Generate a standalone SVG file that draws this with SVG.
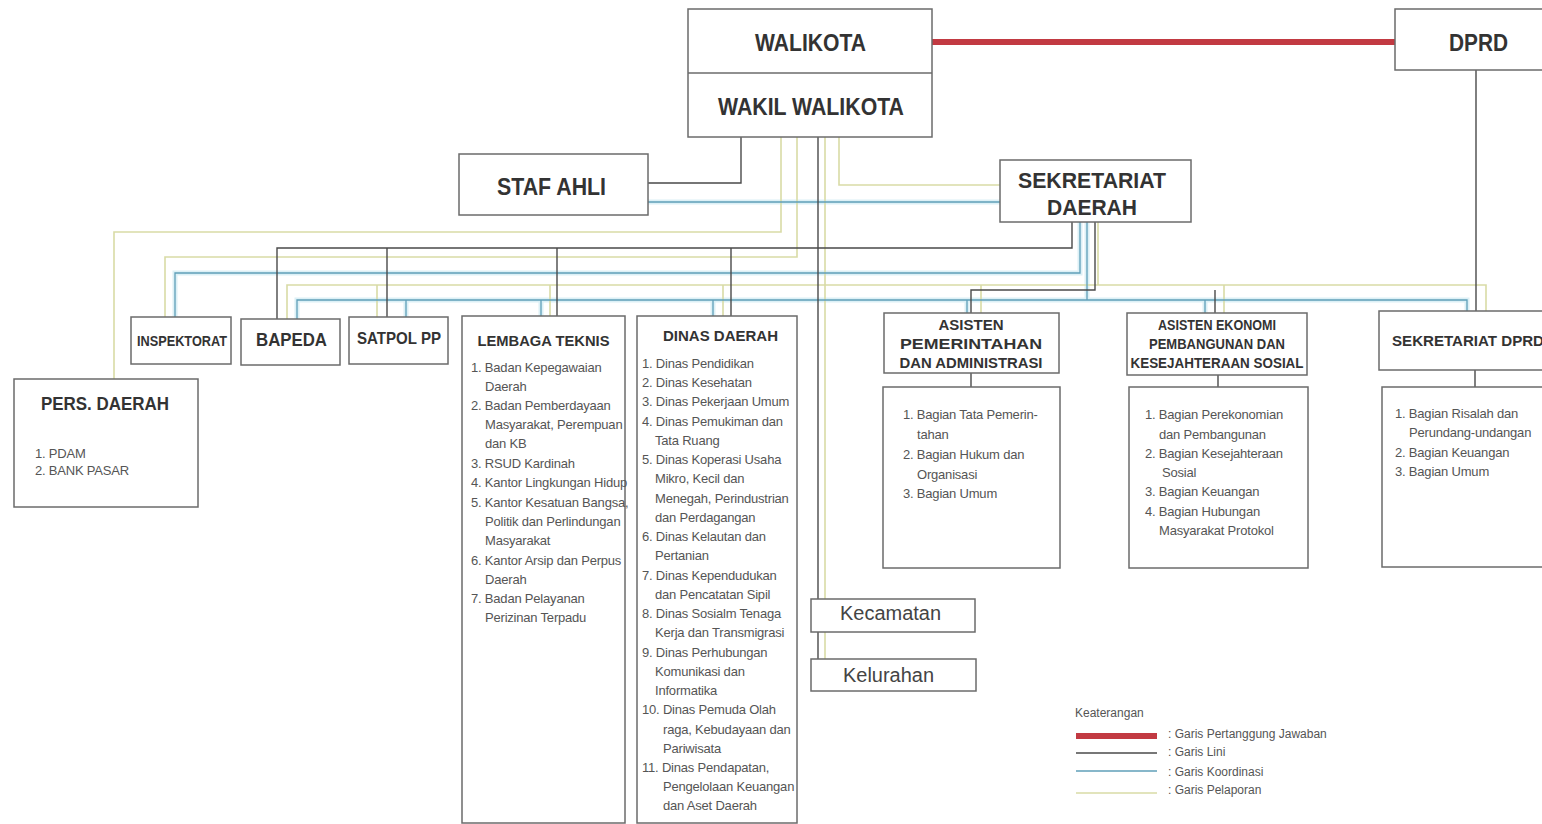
<svg xmlns="http://www.w3.org/2000/svg" width="1542" height="824" viewBox="0 0 1542 824">
<style>
.box{fill:#fff;stroke:#6b6b6b;stroke-width:1.5}
.ln{fill:none;stroke:#4a4a4a;stroke-width:1.4}
.coh{fill:none;stroke:#dcf0f6;stroke-width:5}
.co{fill:none;stroke:#5f9fb8;stroke-width:1.3}
.re{fill:none;stroke:#d9dba6;stroke-width:1.6}
.red{fill:none;stroke:#c23a42;stroke-width:6}
.t{font-family:"Liberation Sans",Arial,sans-serif;font-weight:bold;fill:#333}
.i{font-family:"Liberation Sans",Arial,sans-serif;font-size:13px;fill:#555;letter-spacing:-0.2px}
.k{font-family:"Liberation Sans",Arial,sans-serif;font-size:20px;fill:#444}
.lg{font-family:"Liberation Sans",Arial,sans-serif;font-size:12px;fill:#555}
</style>
<rect width="1542" height="824" fill="#fff"/>
<g id="connectors">
<path class="coh" d="M648,202 H1000 M1080,222 V273 H175 V317 M1087,222 V300 H297 V319 M406,300 V317 M541,300 V316 M713,300 V316 M1087,300 H1467 V311 M967,300 V313 M1205,300 V313"/>
<path class="re" d="M781,137 V232 H114 V379 M797,137 V257 H165 V317 M839,137 V185 H1000 M825,137 V659 M1098,222 V285 H287 V319 M377,285 V317 M550,285 V316 M723,285 V316 M1098,285 H1486 V311 M981,285 V313 M1224,285 V313"/>
<path class="co" d="M648,202 H1000 M1080,222 V273 H175 V317 M1087,222 V300 H297 V319 M406,300 V317 M541,300 V316 M713,300 V316 M1087,300 H1467 V311 M967,300 V313 M1205,300 V313"/>
<path class="ln" d="M741,137 V183 H648 M818,137 V659 M1072,222 V248 H277 V319 M387,248 V317 M557,248 V316 M731,248 V316 M1095,222 V290 H971 V313 M1215,290 V313 M1476,70 V311 M971,373 V387 M1218,375 V387 M1475,370 V387"/>
<path class="red" d="M932,42 H1395"/>
</g>
<g id="walikota">
<rect class="box" x="688" y="9" width="244" height="128"/>
<line x1="688" y1="73" x2="932" y2="73" stroke="#6b6b6b" stroke-width="1.5"/>
<text class="t" x="810.5" y="51" font-size="24" text-anchor="middle" textLength="111" lengthAdjust="spacingAndGlyphs">WALIKOTA</text>
<text class="t" x="811" y="115" font-size="24" text-anchor="middle" textLength="186" lengthAdjust="spacingAndGlyphs">WAKIL WALIKOTA</text>
</g>
<g id="dprd">
<rect class="box" x="1395" y="9" width="160" height="61"/>
<text class="t" x="1478.5" y="51" font-size="24" text-anchor="middle" textLength="59" lengthAdjust="spacingAndGlyphs">DPRD</text>
</g>
<g id="staf-ahli">
<rect class="box" x="459" y="154" width="189" height="61"/>
<text class="t" x="551.5" y="195" font-size="24" text-anchor="middle" textLength="109" lengthAdjust="spacingAndGlyphs">STAF AHLI</text>
</g>
<g id="sekda">
<rect class="box" x="1000" y="160" width="191" height="62"/>
<text class="t" x="1092" y="188" font-size="22" text-anchor="middle" textLength="148" lengthAdjust="spacingAndGlyphs">SEKRETARIAT</text>
<text class="t" x="1092" y="215" font-size="22" text-anchor="middle" textLength="90" lengthAdjust="spacingAndGlyphs">DAERAH</text>
</g>
<g id="inspektorat">
<rect class="box" x="131" y="317" width="100" height="47"/>
<text class="t" x="137" y="346" font-size="14" textLength="90" lengthAdjust="spacingAndGlyphs">INSPEKTORAT</text>
</g>
<g id="bapeda">
<rect class="box" x="241" y="319" width="99" height="46"/>
<text class="t" x="256" y="346" font-size="19" textLength="71" lengthAdjust="spacingAndGlyphs">BAPEDA</text>
</g>
<g id="satpol">
<rect class="box" x="349" y="317" width="99" height="47"/>
<text class="t" x="357" y="344" font-size="17" textLength="84" lengthAdjust="spacingAndGlyphs">SATPOL PP</text>
</g>
<g id="pers-daerah">
<rect class="box" x="14" y="379" width="184" height="128"/>
<text class="t" x="41" y="410" font-size="18" textLength="128" lengthAdjust="spacingAndGlyphs">PERS. DAERAH</text>
<text class="i" font-size="12.5"><tspan x="35" y="458">1. PDAM</tspan><tspan x="35" y="475">2. BANK PASAR</tspan></text>
</g>
<g id="lembaga-teknis">
<rect class="box" x="462" y="316" width="163" height="507"/>
<text class="t" x="543.5" y="345.5" font-size="15" text-anchor="middle" textLength="132" lengthAdjust="spacingAndGlyphs">LEMBAGA TEKNIS</text>
<text class="i">
<tspan x="471" y="371.5">1. Badan Kepegawaian</tspan>
<tspan x="485" y="390.5">Daerah</tspan>
<tspan x="471" y="410">2. Badan Pemberdayaan</tspan>
<tspan x="485" y="429">Masyarakat, Perempuan</tspan>
<tspan x="485" y="448">dan KB</tspan>
<tspan x="471" y="468">3. RSUD Kardinah</tspan>
<tspan x="471" y="487">4. Kantor Lingkungan Hidup</tspan>
<tspan x="471" y="507">5. Kantor Kesatuan Bangsa,</tspan>
<tspan x="485" y="526">Politik dan Perlindungan</tspan>
<tspan x="485" y="545">Masyarakat</tspan>
<tspan x="471" y="565">6. Kantor Arsip dan Perpus</tspan>
<tspan x="485" y="584">Daerah</tspan>
<tspan x="471" y="603">7. Badan Pelayanan</tspan>
<tspan x="485" y="622">Perizinan Terpadu</tspan>
</text>
</g>
<g id="dinas-daerah">
<rect class="box" x="637" y="316" width="160" height="507"/>
<text class="t" x="720.5" y="340.5" font-size="15" text-anchor="middle" textLength="115" lengthAdjust="spacingAndGlyphs">DINAS DAERAH</text>
<text class="i">
<tspan x="642" y="367.5">1. Dinas Pendidikan</tspan>
<tspan x="642" y="386.5">2. Dinas Kesehatan</tspan>
<tspan x="642" y="405.5">3. Dinas Pekerjaan Umum</tspan>
<tspan x="642" y="425.5">4. Dinas Pemukiman dan</tspan>
<tspan x="655" y="444.5">Tata Ruang</tspan>
<tspan x="642" y="463.5">5. Dinas Koperasi Usaha</tspan>
<tspan x="655" y="482.5">Mikro, Kecil dan</tspan>
<tspan x="655" y="502.5">Menegah, Perindustrian</tspan>
<tspan x="655" y="521.5">dan Perdagangan</tspan>
<tspan x="642" y="540.5">6. Dinas Kelautan dan</tspan>
<tspan x="655" y="559.5">Pertanian</tspan>
<tspan x="642" y="579.5">7. Dinas Kependudukan</tspan>
<tspan x="655" y="598.5">dan Pencatatan Sipil</tspan>
<tspan x="642" y="617.5">8. Dinas Sosialm Tenaga</tspan>
<tspan x="655" y="636.5">Kerja dan Transmigrasi</tspan>
<tspan x="642" y="656.5">9. Dinas Perhubungan</tspan>
<tspan x="655" y="675.5">Komunikasi dan</tspan>
<tspan x="655" y="694.5">Informatika</tspan>
<tspan x="642" y="713.5">10. Dinas Pemuda Olah</tspan>
<tspan x="663" y="733.5">raga, Kebudayaan dan</tspan>
<tspan x="663" y="752.5">Pariwisata</tspan>
<tspan x="642" y="771.5">11. Dinas Pendapatan,</tspan>
<tspan x="663" y="790.5">Pengelolaan Keuangan</tspan>
<tspan x="663" y="809.5">dan Aset Daerah</tspan>
</text>
</g>
<g id="kecamatan">
<rect class="box" x="811" y="599" width="164" height="33"/>
<text class="k" x="840" y="620" textLength="101" lengthAdjust="spacingAndGlyphs">Kecamatan</text>
</g>
<g id="kelurahan">
<rect class="box" x="811" y="659" width="165" height="32"/>
<text class="k" x="843" y="682" textLength="91" lengthAdjust="spacingAndGlyphs">Kelurahan</text>
</g>
<g id="asisten-pemerintahan">
<rect class="box" x="884" y="313" width="175" height="60"/>
<text class="t" font-size="14" text-anchor="middle"><tspan x="971" y="330" textLength="65" lengthAdjust="spacingAndGlyphs">ASISTEN</tspan><tspan x="971" y="349" textLength="142" lengthAdjust="spacingAndGlyphs">PEMERINTAHAN</tspan><tspan x="971" y="368" textLength="143" lengthAdjust="spacingAndGlyphs">DAN ADMINISTRASI</tspan></text>
<rect class="box" x="883" y="387" width="177" height="181"/>
<text class="i">
<tspan x="903" y="418.5">1. Bagian Tata Pemerin-</tspan>
<tspan x="917" y="438.5">tahan</tspan>
<tspan x="903" y="458.5">2. Bagian Hukum dan</tspan>
<tspan x="917" y="478.5">Organisasi</tspan>
<tspan x="903" y="497.5">3. Bagian Umum</tspan>
</text>
</g>
<g id="asisten-ekonomi">
<rect class="box" x="1127" y="313" width="180" height="62"/>
<text class="t" font-size="14" text-anchor="middle"><tspan x="1217" y="330" textLength="118" lengthAdjust="spacingAndGlyphs">ASISTEN EKONOMI</tspan><tspan x="1217" y="349" textLength="136" lengthAdjust="spacingAndGlyphs">PEMBANGUNAN DAN</tspan><tspan x="1217" y="368" textLength="173" lengthAdjust="spacingAndGlyphs">KESEJAHTERAAN SOSIAL</tspan></text>
<rect class="box" x="1129" y="387" width="179" height="181"/>
<text class="i">
<tspan x="1145" y="418.5">1. Bagian Perekonomian</tspan>
<tspan x="1159" y="438.5">dan Pembangunan</tspan>
<tspan x="1145" y="457.5">2. Bagian Kesejahteraan</tspan>
<tspan x="1162" y="476.5">Sosial</tspan>
<tspan x="1145" y="495.5">3. Bagian Keuangan</tspan>
<tspan x="1145" y="515.5">4. Bagian Hubungan</tspan>
<tspan x="1159" y="534.5">Masyarakat Protokol</tspan>
</text>
</g>
<g id="sekretariat-dprd">
<rect class="box" x="1379" y="311" width="180" height="59"/>
<text class="t" x="1392" y="345.5" font-size="15" textLength="152" lengthAdjust="spacingAndGlyphs">SEKRETARIAT DPRD</text>
<rect class="box" x="1382" y="387" width="180" height="180"/>
<text class="i">
<tspan x="1395" y="417.5">1. Bagian Risalah dan</tspan>
<tspan x="1409" y="436.5">Perundang-undangan</tspan>
<tspan x="1395" y="456.5">2. Bagian Keuangan</tspan>
<tspan x="1395" y="475.5">3. Bagian Umum</tspan>
</text>
</g>
<g id="legend">
<text class="lg" x="1075" y="717" font-size="13">Keaterangan</text>
<line class="red" x1="1076" y1="736" x2="1157" y2="736"/>
<line class="ln" x1="1076" y1="753" x2="1157" y2="753"/>
<line class="co" x1="1076" y1="771" x2="1157" y2="771"/>
<line class="re" x1="1076" y1="793" x2="1157" y2="793"/>
<text class="lg"><tspan x="1168" y="738">: Garis Pertanggung Jawaban</tspan><tspan x="1168" y="756">: Garis Lini</tspan><tspan x="1168" y="776">: Garis Koordinasi</tspan><tspan x="1168" y="794">: Garis Pelaporan</tspan></text>
</g>
</svg>
